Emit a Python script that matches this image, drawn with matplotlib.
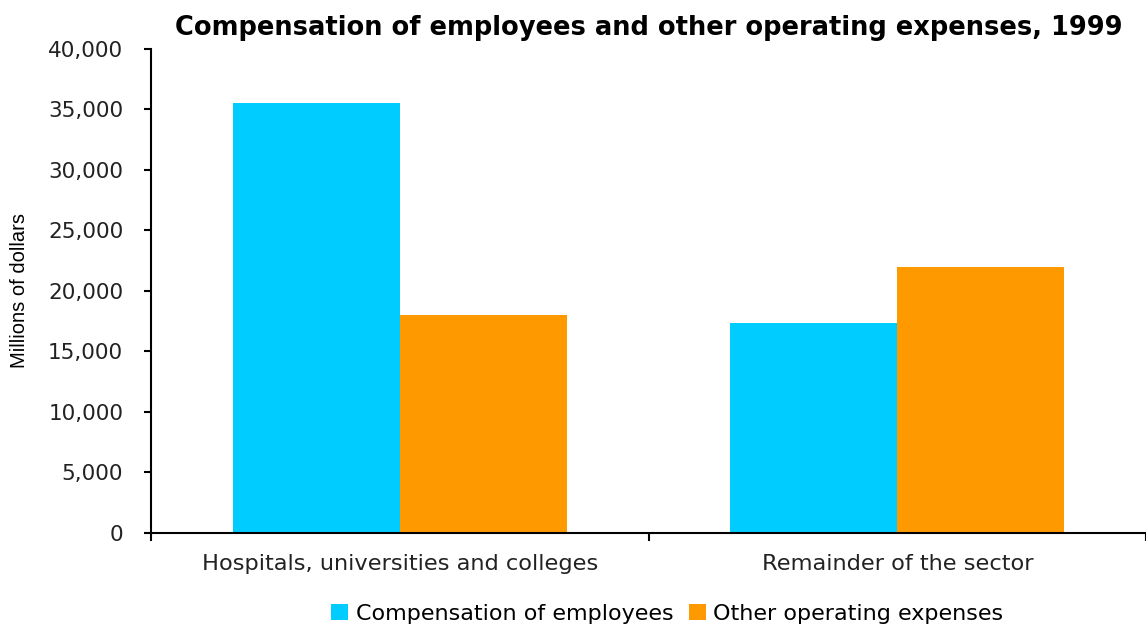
import numpy as np
import matplotlib
matplotlib.use("Agg")
import matplotlib.pyplot as plt
from matplotlib.ticker import FuncFormatter, FixedLocator

categories = ["Hospitals, universities and colleges", "Remainder of the sector"]
series_names = ["Compensation of employees", "Other operating expenses"]
compensation = [35550, 17350]
other_expenses = [18000, 22000]
colors = ["#00CCFF", "#FF9900"]

fig = plt.figure(figsize=(11.46, 6.25), dpi=100)
ax = fig.add_axes([0.1318, 0.1477, 0.8682, 0.7739])

x = np.arange(len(categories))
w = 0.336
ax.bar(x - w / 2, compensation, w, color=colors[0], label=series_names[0])
ax.bar(x + w / 2, other_expenses, w, color=colors[1], label=series_names[1])

ax.set_xlim(-0.5, len(categories) - 0.5)
ax.set_ylim(0, 40000)
ax.set_yticks(np.arange(0, 40001, 5000))
ax.yaxis.set_major_formatter(FuncFormatter(lambda v, p: f"{v:,.0f}"))

# category names centred under each group, tick marks on the group boundaries
ax.set_xticks(x)
ax.set_xticklabels(categories)
ax.xaxis.set_minor_locator(FixedLocator(np.arange(-0.5, len(categories), 1.0)))
ax.tick_params(axis="x", which="major", length=0, pad=15.5, labelsize=16.2, colors="#222222")
ax.tick_params(axis="x", which="minor", length=6, width=1.5, direction="out")
ax.tick_params(axis="y", length=5, width=1.5, direction="out", labelsize=15.5, pad=15, labelcolor="#222222")

for s in ["top", "right"]:
    ax.spines[s].set_visible(False)
for s in ["left", "bottom"]:
    ax.spines[s].set_linewidth(1.5)

ax.set_ylabel("Millions of dollars", family="Liberation Sans", fontsize=14.5, labelpad=14)
ax.set_title("Compensation of employees and other operating expenses, 1999",
             fontsize=18.5, fontweight="bold", pad=10, x=0.5)

ax.legend(loc="upper center", bbox_to_anchor=(0.519, -0.115), ncol=2, frameon=False,
          fontsize=16, handlelength=0.75, handleheight=0.75, handletextpad=0.35,
          columnspacing=0.7, borderpad=0.2)

fig.savefig("out.png", dpi=100)
